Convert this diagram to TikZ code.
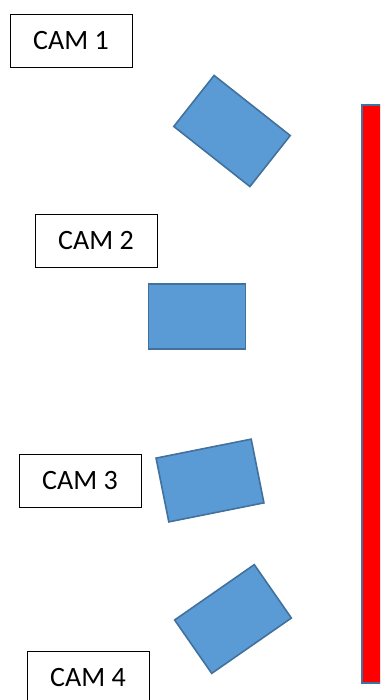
\documentclass[tikz,border=0pt]{standalone}
\usepackage{fontspec}
\setmainfont{Carlito}
\usepackage{tikz}
\usepackage{xcolor}
\definecolor{camblue}{HTML}{5B9BD5}
\definecolor{camedge}{HTML}{41719C}
\newcommand{\camtext}{\fontsize{28}{34}\selectfont}
\tikzset{
	camlabel/.style={draw=black, line width=0.9pt, fill=white, minimum width=122, minimum height=53, inner sep=0pt, font=\camtext},
	camera/.style={draw=camedge, line width=1.6pt, fill=camblue, minimum width=97, minimum height=65, inner sep=0pt},
}

\begin{document}
\begin{tikzpicture}[x=1pt, y=-1pt]
	\useasboundingbox (0,0) rectangle (380,700);
	\clip (0,0) rectangle (380,700);
	%wall
	\draw[draw=camedge, line width=1.6pt, fill=red] (362,105) rectangle (430,683);
	%
	%cameras
	\node[camera, rotate=-38.3] (cam1) at (232,131) {};
	\node[camera] (cam2) at (197,316.5) {};
	\node[camera, rotate=11.3] (cam3) at (210,480.5) {};
	\node[camera, rotate=34.8] (cam4) at (233,619) {};
	%
	%labels
	\node[camlabel] (lbl1) at (71,40.5) {CAM 1};
	\node[camlabel] (lbl2) at (96,240.5) {CAM 2};
	\node[camlabel] (lbl3) at (80,480.5) {CAM 3};
	\node[camlabel] (lbl4) at (88,677.5) {CAM 4};
\end{tikzpicture}
\end{document}
